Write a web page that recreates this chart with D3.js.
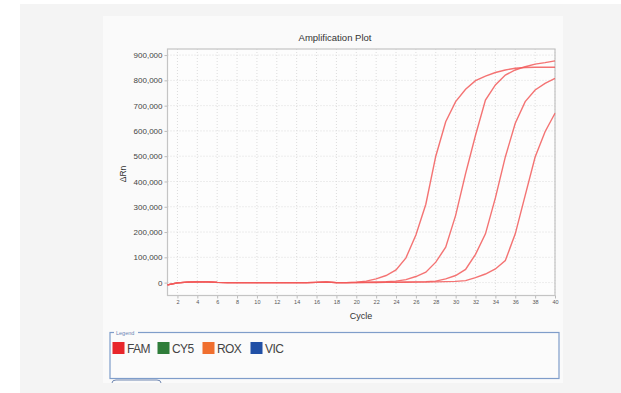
<!DOCTYPE html>
<html>
<head>
<meta charset="utf-8">
<script src="https://cdn.jsdelivr.net/npm/d3@7"></script>
<style>
  body { margin: 0; background: #fff; }
  text { font-family: "Liberation Sans", Arial, sans-serif; }
</style>
</head>
<body>
<div id="chart"></div>
<script>
// cycles 1..40
const cycles = d3.range(1, 41);

// ΔRn per cycle
const well1 = [-9000, -1000, 2000, 3000, 3000, 1000, 0, 0, 0, 0,
  0, 0, 0, 0, 0, 1000, 3000, 0, 0, 2000,
  6000, 15000, 28000, 50000, 98000, 188000, 310000, 500000, 636000, 716000,
  765000, 799000, 817000, 831000, 841000, 848000, 851000, 852000, 852000, 852000];
const well2 = [-9000, -1000, 2000, 3000, 3000, 1000, 0, 0, 0, 0,
  0, 0, 0, 0, 0, 1000, 2000, 0, 0, 1000,
  2000, 3000, 4000, 6000, 12000, 24000, 41000, 81000, 140000, 266000,
  431000, 583000, 722000, 782000, 821000, 841000, 854000, 864000, 870000, 877000];
const well3 = [-9000, -1000, 2000, 3000, 3000, 1000, 0, 0, 0, 0,
  0, 0, 0, 0, 0, 1000, 2000, 0, 0, 0,
  1000, 1000, 2000, 2000, 3000, 3000, 4000, 6000, 15000, 28000,
  52000, 112000, 193000, 335000, 497000, 630000, 716000, 762000, 788000, 808000];
const well4 = [-9000, -1000, 2000, 3000, 3000, 1000, 0, 0, 0, 0,
  0, 0, 0, 0, 0, 1000, 2000, 0, 0, 0,
  0, 0, 1000, 1000, 1000, 2000, 2000, 3000, 4000, 5000,
  8000, 20000, 34000, 54000, 87000, 193000, 345000, 497000, 597000, 670000];
const wells = [well1, well2, well3, well4];

const yTicks = d3.range(0, 900001, 100000);
const xTicks = d3.range(2, 41, 2);

const dyes = ["FAM", "CY5", "ROX", "VIC"];
const dyeColors = ["#e8262b", "#2f7d3a", "#f06f2f", "#2150a6"];

const W = 621, H = 393;
const svg = d3.select("#chart").append("svg")
  .attr("width", W).attr("height", H);

// backgrounds
svg.append("rect").attr("x", 20).attr("y", 4).attr("width", W - 20).attr("height", H - 4)
  .attr("fill", "#f4f4f4");
svg.append("rect").attr("x", 103).attr("y", 16).attr("width", 460).attr("height", 367)
  .attr("fill", "#fafafa");

const plot = { left: 167.5, right: 555, top: 49, bottom: 295.5 };

const x = d3.scaleLinear().domain([1, 40]).range([plot.left, plot.right]);
const y = d3.scaleLinear().domain([-51000, 924000]).range([plot.bottom, plot.top]);

svg.append("rect")
  .attr("x", plot.left).attr("y", plot.top)
  .attr("width", plot.right - plot.left).attr("height", plot.bottom - plot.top)
  .attr("fill", "#fdfdfd");

// grid
const grid = svg.append("g").attr("stroke", "#dcdcdc").attr("stroke-dasharray", "1,2");
grid.selectAll(".gx").data(xTicks).join("line")
  .attr("x1", d => x(d)).attr("x2", d => x(d))
  .attr("y1", plot.top).attr("y2", plot.bottom);
grid.selectAll(".gy").data(yTicks).join("line")
  .attr("x1", plot.left).attr("x2", plot.right)
  .attr("y1", d => y(d)).attr("y2", d => y(d));

// axes
const xAxis = svg.append("g")
  .attr("transform", `translate(0,${plot.bottom})`)
  .call(d3.axisBottom(x).tickValues(xTicks).tickSize(3).tickPadding(2).tickSizeOuter(0));
xAxis.selectAll("text").attr("font-size", 5.5).attr("fill", "#555");

const yAxis = svg.append("g")
  .attr("transform", `translate(${plot.left},0)`)
  .call(d3.axisLeft(y).tickValues(yTicks).tickSize(3).tickPadding(2).tickSizeOuter(0)
    .tickFormat(d3.format(",")));
yAxis.selectAll("text").attr("font-size", 8).attr("fill", "#444");

svg.selectAll(".domain").remove();
svg.selectAll(".tick line").attr("stroke", "#bbb");

svg.append("rect")
  .attr("x", plot.left).attr("y", plot.top)
  .attr("width", plot.right - plot.left).attr("height", plot.bottom - plot.top)
  .attr("fill", "none").attr("stroke", "#c4c4c4").attr("stroke-width", 1.2);

// curves
const line = d3.line()
  .x((d, i) => x(cycles[i]))
  .y(d => y(d));

svg.append("g")
  .selectAll("path").data(wells).join("path")
  .attr("d", line)
  .attr("fill", "none")
  .attr("stroke", "#f25a5a")
  .attr("stroke-width", 1.4)
  .attr("stroke-opacity", 0.85);

// titles
svg.append("text").attr("x", 335).attr("y", 41).attr("text-anchor", "middle")
  .attr("font-size", 9.5).attr("fill", "#333").text("Amplification Plot");
svg.append("text").attr("x", 361).attr("y", 319).attr("text-anchor", "middle")
  .attr("font-size", 9).attr("fill", "#333").text("Cycle");
svg.append("text")
  .attr("transform", "translate(126,174) rotate(-90)")
  .attr("text-anchor", "middle").attr("font-size", 8.5).attr("fill", "#333").text("ΔRn");

// legend box
const lg = svg.append("g");
lg.append("rect").attr("x", 110).attr("y", 332.5).attr("width", 449).attr("height", 46)
  .attr("fill", "#fbfbfb").attr("stroke", "#7f9dca").attr("stroke-width", 1.2);
lg.append("rect").attr("x", 114).attr("y", 330).attr("width", 24).attr("height", 5)
  .attr("fill", "#fafafa");
lg.append("text").attr("x", 116).attr("y", 334.5).attr("font-size", 5.5)
  .attr("fill", "#6a85b5").text("Legend");

const items = lg.selectAll(".item").data(dyes).join("g")
  .attr("transform", (d, i) => `translate(${[112.5, 157.5, 202.5, 250.5][i]},342)`);
items.append("rect").attr("width", 12).attr("height", 12)
  .attr("fill", (d, i) => dyeColors[i]);
items.append("text").attr("x", 14.5).attr("y", 11).attr("font-size", 12)
  .attr("letter-spacing", -0.6).attr("fill", "#444").text(d => d);

// top edge of a button peeking below the legend
svg.append("path")
  .attr("d", "M112,383 Q112,380 116,380 L157,380 Q161,380 161,383")
  .attr("fill", "none").attr("stroke", "#7088b2");
</script>
</body>
</html>
